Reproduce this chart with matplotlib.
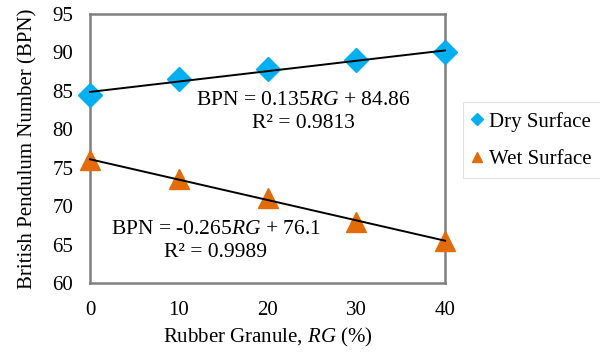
import numpy as np
import matplotlib
matplotlib.use("Agg")
import matplotlib.pyplot as plt

plt.rcParams['font.family'] = ['Liberation Serif', 'DejaVu Serif']
plt.rcParams['mathtext.fontset'] = 'custom'
plt.rcParams['mathtext.rm'] = 'Liberation Serif'
plt.rcParams['mathtext.it'] = 'Liberation Serif:italic'

rg = [0, 10, 20, 30, 40]
dry = [84.5, 86.5, 87.8, 89.0, 90.0]
wet = [76.0, 73.5, 71.0, 68.0, 65.5]
yticks = [60, 65, 70, 75, 80, 85, 90, 95]
xticks = [0, 10, 20, 30, 40]

FS = 15

fig = plt.figure(figsize=(6, 3.54), dpi=100)
ax = fig.add_axes([0.15, 0.2006, 0.5917, 0.7599])

ax.plot(rg, dry, linestyle='none', marker='D', color='#00B0F0', markersize=12.5,
        label='Dry Surface', clip_on=False, zorder=3)
ax.plot(rg, wet, linestyle='none', marker='^', color='#E36C09', markersize=15,
        label='Wet Surface', clip_on=False, zorder=3)

xs = np.array([0, 40])
for d in (dry, wet):
    m, b = np.polyfit(rg, d, 1)
    ax.plot(xs, m * xs + b, color='black', lw=1.4, zorder=4, clip_on=False)

ax.set_xlim(0, 40)
ax.set_ylim(60, 95)
ax.set_xticks(xticks)
ax.set_yticks(yticks)
ax.tick_params(axis='y', length=0, labelsize=FS, pad=12)
ax.tick_params(axis='x', length=0, labelsize=FS, pad=13)
for s in ax.spines.values():
    s.set_color('#7f7f7f')
    s.set_linewidth(1.8)

ax.set_xlabel('Rubber Granule, $\\mathit{RG}$ (%)', fontsize=FS, labelpad=4)
ax.set_ylabel('British Pendulum Number (BPN)', fontsize=FS, labelpad=11)

ax.text(0.6, 0.636, 'BPN = 0.135$\\mathit{RG}$ + 84.86\nR² = 0.9813', transform=ax.transAxes,
        ha='center', va='center', fontsize=15.5, linespacing=1.3, zorder=5)
ax.text(0.354, 0.156, 'BPN = -0.265$\\mathit{RG}$ + 76.1\nR² = 0.9989', transform=ax.transAxes,
        ha='center', va='center', fontsize=15.5, linespacing=1.3, zorder=5)

leg = ax.legend(loc='center left', bbox_to_anchor=(1.05, 0.53), fontsize=FS,
                frameon=True, fancybox=False, edgecolor='#d9d9d9', handlelength=0.5,
                handletextpad=0.3, borderpad=0.45, labelspacing=0.85, markerscale=0.5,
                borderaxespad=0)
leg.get_frame().set_linewidth(0.8)

fig.savefig('out.png', dpi=100)
